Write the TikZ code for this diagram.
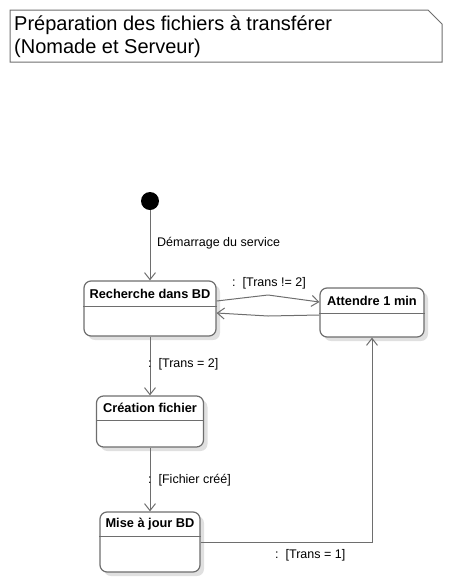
\documentclass[tikz,border=0pt]{standalone}
\usepackage{fontspec}
\setmainfont{Liberation Sans}
\usepackage{tikz}
\usetikzlibrary{arrows.meta}
\usetikzlibrary{shadows}
\usetikzlibrary{calc}
\definecolor{umlgray}{RGB}{110,110,110}
\tikzstyle{state} = [draw=umlgray,line width=1.2pt,fill=white,rounded corners=7pt,inner sep=0pt,drop shadow={shadow xshift=4pt,shadow yshift=-4pt,fill=black!12,opacity=1}]
\tikzstyle{stitle} = [font=\bfseries\fontsize{12.8}{14}\selectfont,inner sep=0pt]
\tikzstyle{trans} = [draw=umlgray,line width=1pt,-{Straight Barb[length=7pt,width=11pt]}]
\tikzstyle{lbl} = [font=\fontsize{12.5}{14}\selectfont,inner sep=0pt,anchor=west]

\begin{document}
\begin{tikzpicture}[x=1pt,y=-1pt]
\useasboundingbox (0,0) rectangle (448,582);
% title note
\draw[umlgray,line width=1pt,fill=white] (10,10) -- (428,10) -- (442,24) -- (442,62) -- (10,62) -- cycle;
\node[anchor=north west,align=left,inner sep=0pt,font=\fontsize{20}{22.5}\selectfont] (note) at (14,16) {Préparation des fichiers à transférer\\(Nomade et Serveur)};
% initial state
\node[circle,fill=black,minimum size=18pt,inner sep=0pt] (init) at (150,201) {};
% states
\node[state,minimum width=132pt,minimum height=55pt] (rech) at (150,308.5) {};
\node[stitle] (rechT) at (150,294) {Recherche dans BD};
\draw[umlgray,line width=1pt] (rech.west |- 0,306) -- (rech.east |- 0,306);
\node[state,minimum width=104pt,minimum height=49pt] (att) at (372,312.5) {};
\node[stitle] (attT) at (372,301) {Attendre 1 min};
\draw[umlgray,line width=1pt] (att.west |- 0,313) -- (att.east |- 0,313);
\node[state,minimum width=107pt,minimum height=51pt] (crea) at (150,421.5) {};
\node[stitle] (creaT) at (150,408) {Création fichier};
\draw[umlgray,line width=1pt] (crea.west |- 0,420) -- (crea.east |- 0,420);
\node[state,minimum width=100pt,minimum height=60pt] (mise) at (150,542) {};
\node[stitle] (miseT) at (150,524) {Mise à jour BD};
\draw[umlgray,line width=1pt] (mise.west |- 0,536) -- (mise.east |- 0,536);
% transitions
\coordinate (kOut) at (268,295);
\coordinate (kBack) at (268,316);
\draw[trans] (init) -- (rech);
\draw[trans] ([yshift=7.5pt]rech.east) -- (kOut) -- ([yshift=10.5pt]att.west);
\draw[trans] ([yshift=-2.5pt]att.west) -- (kBack) -- ([yshift=-4.5pt]rech.east);
\draw[trans] (rech) -- (crea);
\draw[trans] (crea) -- (mise);
\draw[trans] (mise.east) -| (att.south);
% labels
\node[lbl] (lStart) at (157,243) {Démarrage du service};
\node[lbl] (lNot2) at (232,283) {:~~[Trans != 2]};
\node[lbl] (lEq2) at (148,364) {:~~[Trans = 2]};
\node[lbl] (lFich) at (148,480) {:~~[Fichier créé]};
\node[lbl] (lEq1) at (275,555) {:~~[Trans = 1]};
\end{tikzpicture}
\end{document}
